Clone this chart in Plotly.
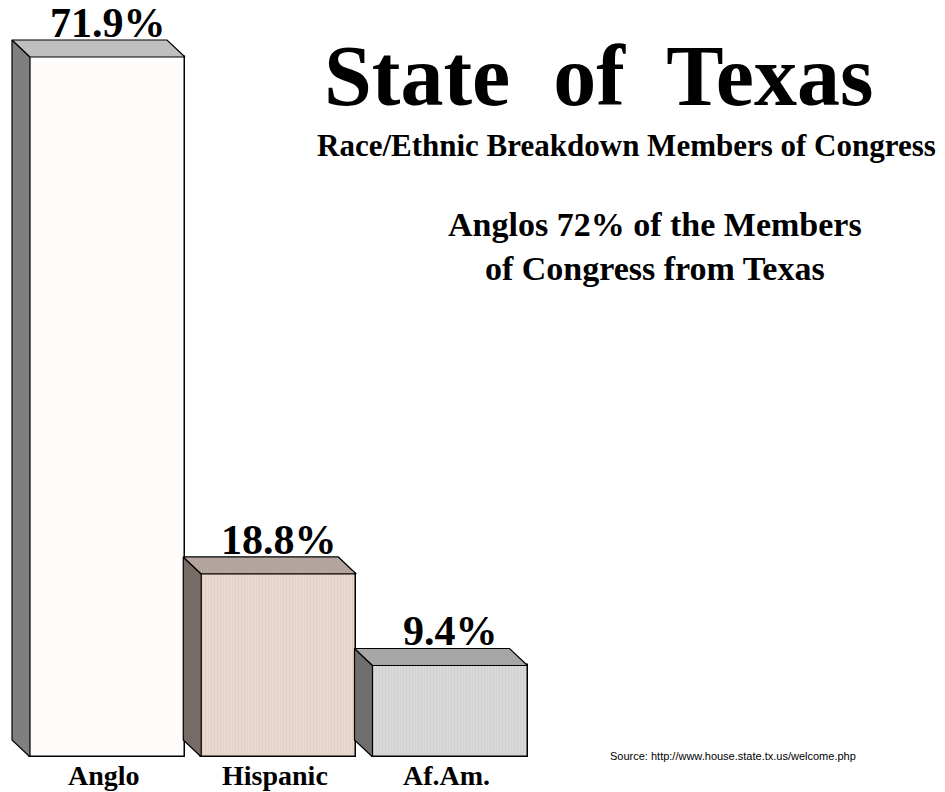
import plotly.graph_objects as go

categories = ["Anglo", "Hispanic", "Af.Am."]
values = [71.9, 18.8, 9.4]
value_labels = ["71.9%", "18.8%", "9.4%"]
front_colors = ["#FEFCFA", "#EAD8CE", "#D8D8D8"]
side_colors = ["#7F7F7F", "#786A65", "#6E6E6E"]
top_colors = ["#BFBFBF", "#B4A69F", "#A6A6A6"]

SERIF = "Liberation Serif, Times New Roman, serif"
W, H = 945, 792
PX_PER_X = 171.25
PX_PER_Y = 9.736
PLOT_H = 757
bar_w = 155 / PX_PER_X
dx = -18 / PX_PER_X
dy = 17 / PX_PER_Y

xs = list(range(len(categories)))
fig = go.Figure()

patterns = [None, dict(shape="|", fgcolor="#D9C6BC", size=3, solidity=0.3),
            dict(shape="|", fgcolor="#C8C8C8", size=3, solidity=0.3)]

for i, (x, v) in enumerate(zip(xs, values)):
    marker = dict(color=front_colors[i], line=dict(color="black", width=1.5))
    if patterns[i]:
        marker["pattern"] = patterns[i]
    fig.add_trace(go.Bar(x=[x], y=[v], width=bar_w, marker=marker,
                         showlegend=False, hoverinfo="skip"))
    xl = x - bar_w / 2
    xr = x + bar_w / 2
    # side face
    fig.add_trace(go.Scatter(
        x=[xl, xl, xl + dx, xl + dx, xl],
        y=[0, v, v + dy, dy, 0],
        fill="toself", fillcolor=side_colors[i], mode="lines",
        line=dict(color="black", width=1.2), showlegend=False, hoverinfo="skip"))
    # top face
    fig.add_trace(go.Scatter(
        x=[xl, xr, xr + dx, xl + dx, xl],
        y=[v, v, v + dy, v + dy, v],
        fill="toself", fillcolor=top_colors[i], mode="lines",
        line=dict(color="black", width=1.2), showlegend=False, hoverinfo="skip"))
    fig.add_annotation(x=x, y=v + dy, text="<b>%s</b>" % value_labels[i],
                       showarrow=False, xanchor="center", yanchor="bottom", yshift=-8,
                       font=dict(family=SERIF, size=42, color="black"))
    fig.add_annotation(x=x, y=0, text="<b>%s</b>" % categories[i],
                       showarrow=False, xanchor="center", yanchor="top", yshift=-1, xshift=-4,
                       font=dict(family=SERIF, size=28, color="black"))

def py(px):
    return (PLOT_H - px) / PLOT_H

fig.add_annotation(xref="paper", yref="paper", x=598 / W, y=py(76),
                   text="<b>State\u00a0 of\u00a0 Texas</b>", showarrow=False,
                   xanchor="center", yanchor="middle",
                   font=dict(family=SERIF, size=86, color="black"))
fig.add_annotation(xref="paper", yref="paper", x=626 / W, y=py(145),
                   text="<b>Race/Ethnic Breakdown Members of Congress</b>", showarrow=False,
                   xanchor="center", yanchor="middle",
                   font=dict(family=SERIF, size=31, color="black"))
fig.add_annotation(xref="paper", yref="paper", x=655 / W, y=py(246),
                   text="<b>Anglos 72% of the Members<br>of Congress from Texas</b>",
                   showarrow=False, xanchor="center", yanchor="middle",
                   font=dict(family=SERIF, size=34, color="black"))
fig.add_annotation(xref="paper", yref="paper", x=733 / W, y=py(756),
                   text="Source: http://www.house.state.tx.us/welcome.php",
                   showarrow=False, xanchor="center", yanchor="middle",
                   font=dict(family="Liberation Sans, Arial, sans-serif", size=11, color="black"))

fig.update_layout(
    width=W, height=H,
    margin=dict(l=0, r=0, t=0, b=H - PLOT_H, pad=0),
    paper_bgcolor="white", plot_bgcolor="white",
    bargap=0, barmode="overlay",
    xaxis=dict(range=[-107.5 / PX_PER_X, (W - 107.5) / PX_PER_X], visible=False, fixedrange=True),
    yaxis=dict(range=[0, PLOT_H / PX_PER_Y], visible=False, fixedrange=True),
)
fig.write_html("out.html")
